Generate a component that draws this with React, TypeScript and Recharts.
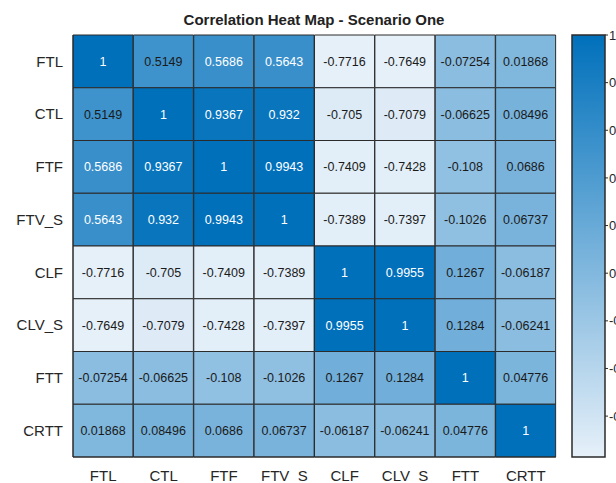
import React from 'react';
import { BarChart, Bar, XAxis, YAxis, Cell, LabelList } from 'recharts';

const labels = ['FTL', 'CTL', 'FTF', 'FTV_S', 'CLF', 'CLV_S', 'FTT', 'CRTT'];

const rowFTL = [1, 0.5149, 0.5686, 0.5643, -0.7716, -0.7649, -0.07254, 0.01868];
const rowCTL = [0.5149, 1, 0.9367, 0.932, -0.705, -0.7079, -0.06625, 0.08496];
const rowFTF = [0.5686, 0.9367, 1, 0.9943, -0.7409, -0.7428, -0.108, 0.0686];
const rowFTVS = [0.5643, 0.932, 0.9943, 1, -0.7389, -0.7397, -0.1026, 0.06737];
const rowCLF = [-0.7716, -0.705, -0.7409, -0.7389, 1, 0.9955, 0.1267, -0.06187];
const rowCLVS = [-0.7649, -0.7079, -0.7428, -0.7397, 0.9955, 1, 0.1284, -0.06241];
const rowFTT = [-0.07254, -0.06625, -0.108, -0.1026, 0.1267, 0.1284, 1, 0.04776];
const rowCRTT = [0.01868, 0.08496, 0.0686, 0.06737, -0.06187, -0.06241, 0.04776, 1];

const matrix = [rowFTL, rowCTL, rowFTF, rowFTVS, rowCLF, rowCLVS, rowFTT, rowCRTT];

const colorMin = -0.7716;
const colorMax = 1;
const colorbarTicks = [-0.6, -0.4, -0.2, 0, 0.2, 0.4, 0.6, 0.8, 1];

const LIGHT = [230, 240, 249];
const DARK = [0, 112, 187];

const FONT = "Arial, 'Liberation Sans', sans-serif";

function cellColor(v: number) {
  const t = Math.max(0, Math.min(1, (v - colorMin) / (colorMax - colorMin)));
  const c = LIGHT.map((l, k) => Math.round(l + (DARK[k] - l) * t));
  return `rgb(${c[0]},${c[1]},${c[2]})`;
}

// one entry per column; each row is a stacked segment of height 1
const table = labels.map((col, j) => {
  const d: any = { col };
  matrix.forEach((row, i) => {
    d['s' + i] = 1;
    d['v' + i] = row[j];
  });
  return d;
});

const colorbarData = [{ name: 'cb', range: [colorMin, colorMax] }];

const renderCellLabel = (props: any) => {
  const { x, y, width, height, value } = props;
  const v = Number(value);
  return (
    <text
      x={x + width / 2}
      y={y + height / 2}
      dy="0.36em"
      textAnchor="middle"
      fontSize={12.5}
      fontFamily={FONT}
      fill={v > 0.54 ? '#ffffff' : '#1a1a1a'}
    >
      {String(v)}
    </text>
  );
};

export default function App() {
  return (
    <div style={{ position: 'absolute', left: 0, top: 0, width: 616, height: 483, overflow: 'hidden', background: '#fff', fontFamily: FONT }}>
      <div
        style={{
          position: 'absolute', left: 0, top: 11, width: 628, textAlign: 'center',
          fontSize: 15, fontWeight: 'bold', color: '#222', lineHeight: '18px',
        }}
      >
        Correlation Heat Map - Scenario One
      </div>

      <div style={{ position: 'absolute', left: 0, top: 0 }}>
        <BarChart
          width={616}
          height={483}
          data={table}
          margin={{ top: 35, right: 60, left: 0, bottom: 0 }}
          barCategoryGap={0}
          barGap={0}
        >
          <XAxis
            dataKey="col"
            height={26}
            tickSize={0}
            tickMargin={13}
            axisLine={{ stroke: '#2b2b2b' }}
            tick={{ fontSize: 15, fill: '#262626', fontFamily: FONT }}
          />
          <YAxis
            type="number"
            domain={[0, 8]}
            reversed
            width={73}
            ticks={[0.5, 1.5, 2.5, 3.5, 4.5, 5.5, 6.5, 7.5]}
            tickFormatter={(v: number) => labels[Math.floor(v)]}
            tickSize={0}
            tickMargin={10}
            axisLine={{ stroke: '#2b2b2b' }}
            tick={{ fontSize: 15, fill: '#262626', fontFamily: FONT }}
          />
          {labels.map((_, i) => (
            <Bar key={i} dataKey={'s' + i} stackId="a" isAnimationActive={false} stroke="#2b2b2b" strokeWidth={1}>
              {table.map((d, j) => (
                <Cell key={j} fill={cellColor(d['v' + i])} />
              ))}
              <LabelList dataKey={'v' + i} content={renderCellLabel} />
            </Bar>
          ))}
        </BarChart>
      </div>

      <div style={{ position: 'absolute', left: 0, top: 0 }}>
        <BarChart
          width={680}
          height={483}
          data={colorbarData}
          margin={{ top: 35, right: 35, left: 572, bottom: 26 }}
          barCategoryGap={0}
        >
          <defs>
            <linearGradient id="cbGrad" x1="0" y1="0" x2="0" y2="1">
              <stop offset="0%" stopColor={cellColor(colorMax)} />
              <stop offset="100%" stopColor={cellColor(colorMin)} />
            </linearGradient>
          </defs>
          <XAxis dataKey="name" hide />
          <YAxis
            orientation="right"
            type="number"
            domain={[colorMin, colorMax]}
            ticks={colorbarTicks}
            width={40}
            axisLine={false}
            tickSize={3}
            tickMargin={1}
            tickLine={{ stroke: '#2b2b2b' }}
            tick={{ fontSize: 13, fill: '#262626', fontFamily: FONT }}
          />
          <Bar dataKey="range" fill="url(#cbGrad)" stroke="#2b2b2b" strokeWidth={1.5} isAnimationActive={false} />
        </BarChart>
      </div>
    </div>
  );
}
